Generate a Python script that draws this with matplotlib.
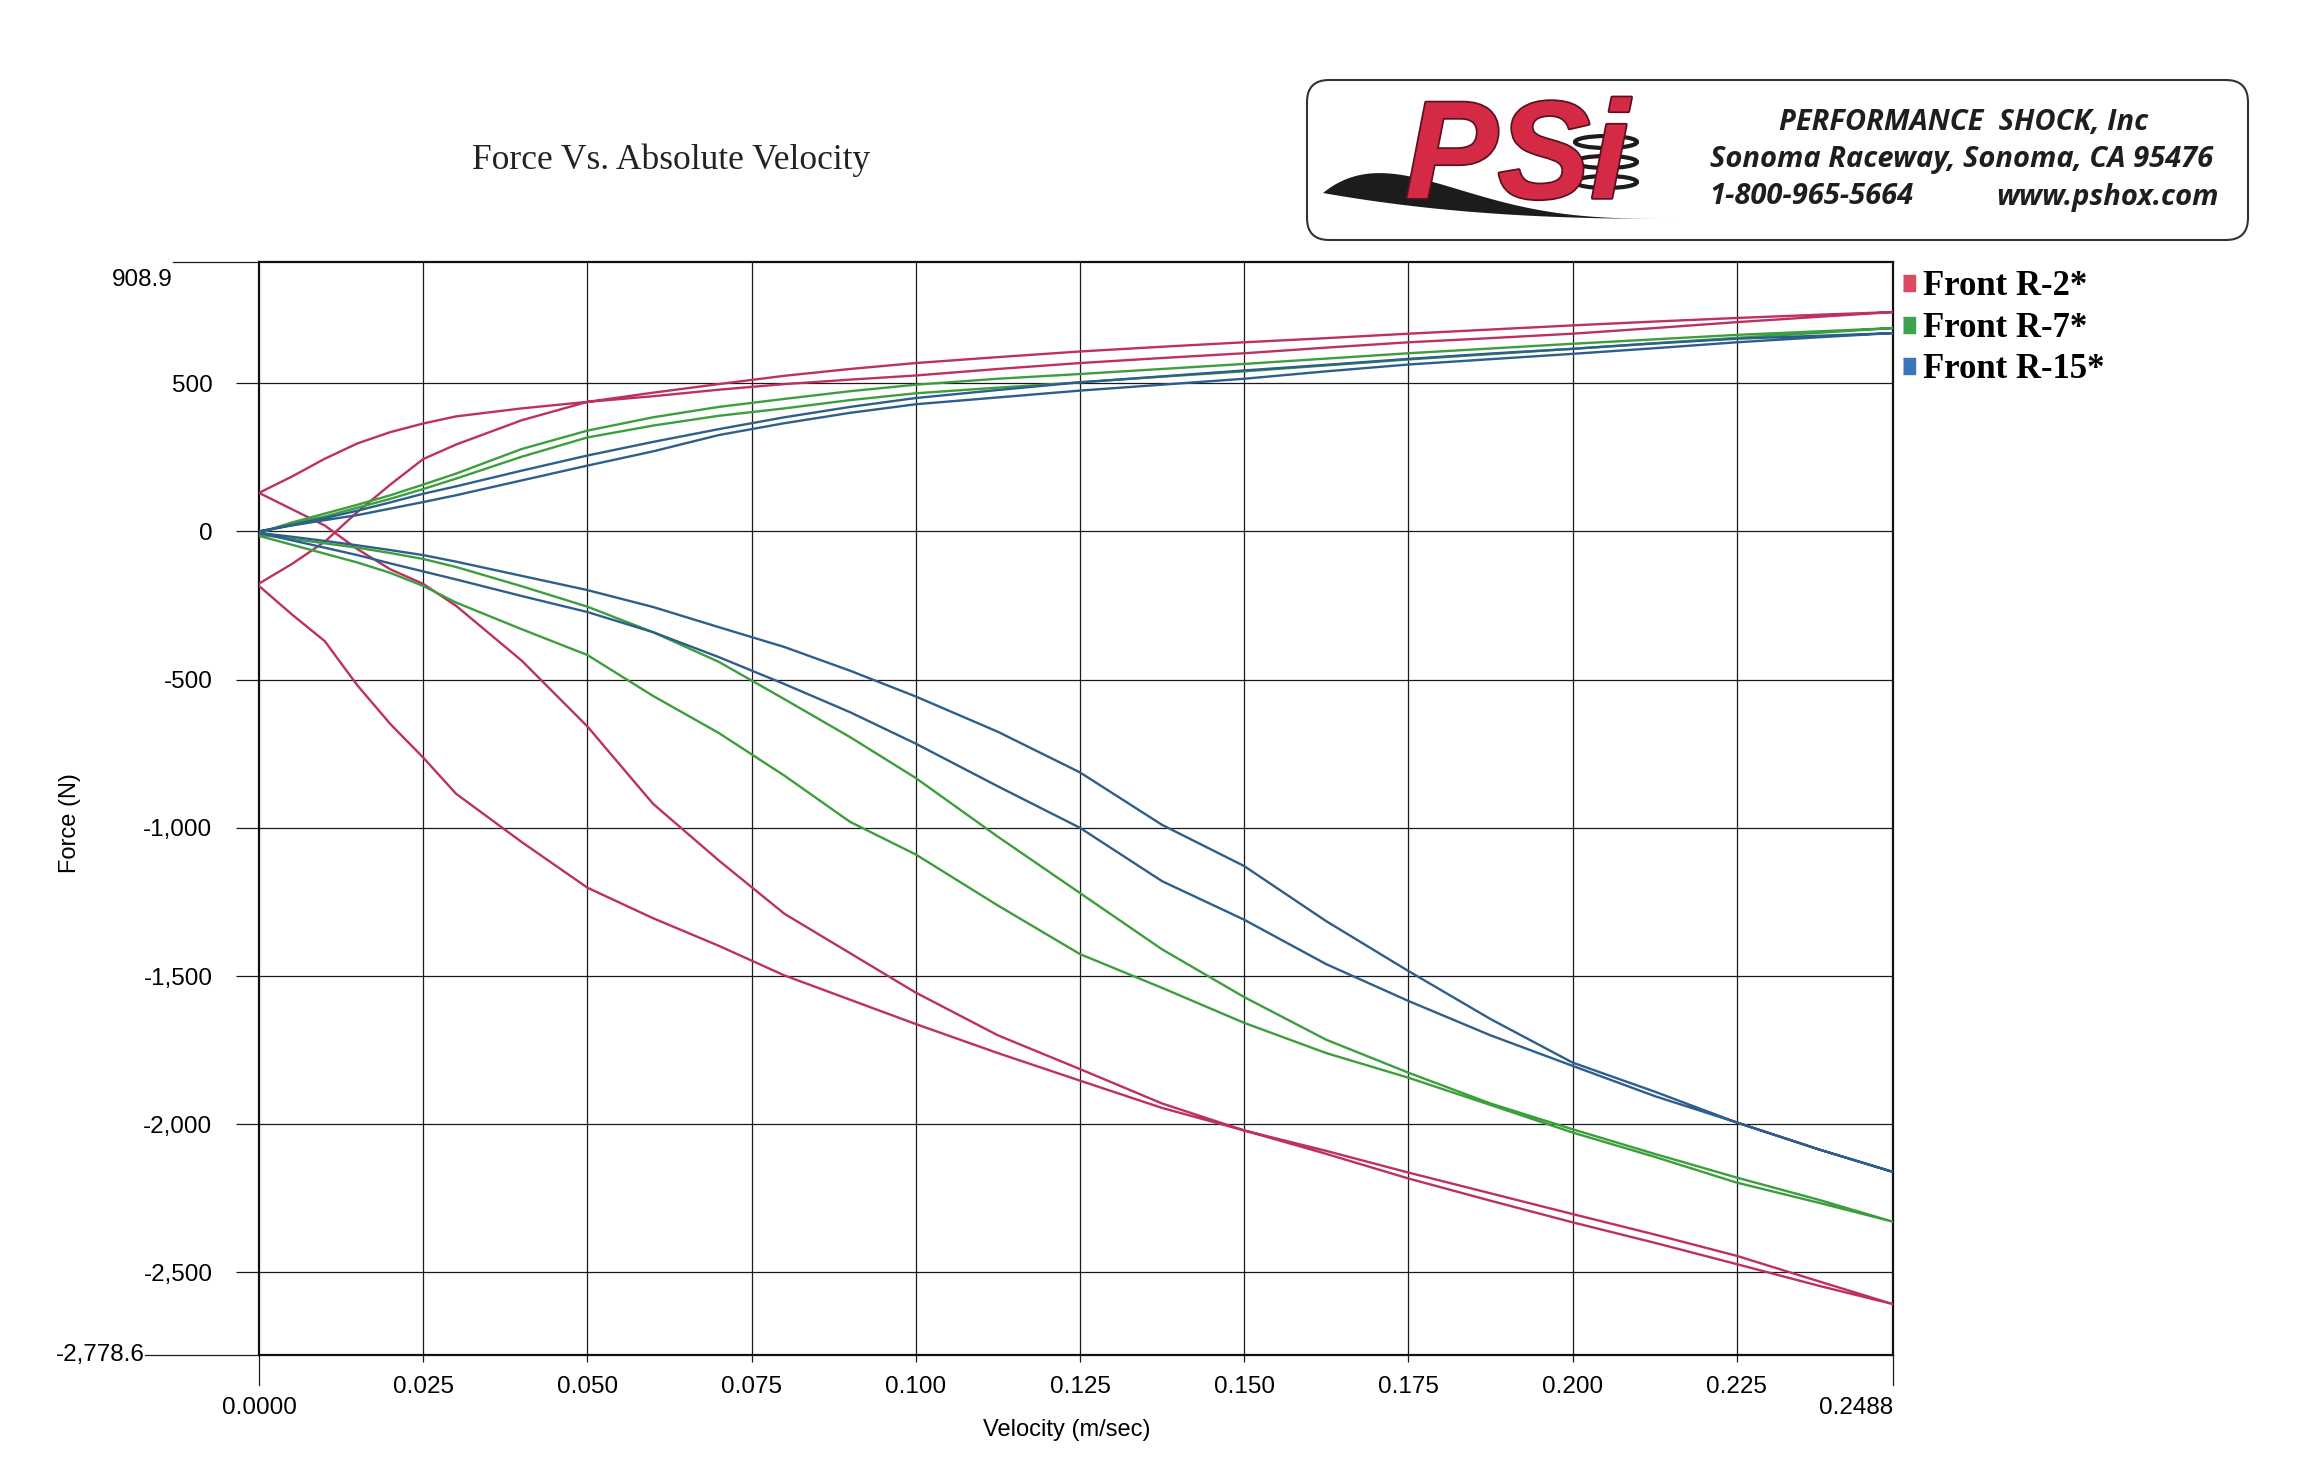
import numpy as np
import matplotlib
matplotlib.use('Agg')
import matplotlib.pyplot as plt
from matplotlib.lines import Line2D
from matplotlib.patches import FancyBboxPatch, Ellipse, Polygon
import matplotlib.patheffects as pe

plt.rcParams['font.family'] = 'Liberation Sans'

# velocity grid (m/sec) shared by every branch
velocity = [0, .005, .01, .015, .02, .025, .03, .04, .05, .06, .07, .08, .09, .10,
            .1125, .125, .1375, .15, .1625, .175, .1875, .20, .2125, .225, .2375, .2488]

# Front R-2*  (compression branches, then rebound branches) - force in N
r2_comp_a = [130, 185, 245, 297, 335, 364, 388, 415, 437, 456, 478, 497, 512, 526,
             548, 568, 585, 601, 620, 638, 652, 667, 686, 706, 724, 740]
r2_comp_b = [-176, -110, -35, 66, 158, 244, 293, 375, 437, 468, 497, 525, 548, 568,
             588, 607, 623, 638, 652, 667, 681, 695, 708, 720, 731, 740]
r2_reb_a = [130, 75, 20, -60, -128, -177, -251, -436, -658, -919, -1110, -1290, -1423, -1556,
            -1700, -1814, -1930, -2021, -2100, -2183, -2258, -2331, -2400, -2472, -2545, -2607]
r2_reb_b = [-184, -280, -370, -520, -650, -763, -885, -1048, -1202, -1305, -1398, -1498, -1580, -1662,
            -1760, -1853, -1945, -2021, -2090, -2163, -2233, -2303, -2372, -2444, -2530, -2607]

# Front R-7*
r7_comp_a = [-5, 30, 60, 90, 122, 158, 195, 278, 340, 385, 420, 447, 473, 495,
             515, 531, 548, 565, 583, 601, 617, 633, 648, 663, 675, 686]
r7_comp_b = [-5, 25, 50, 80, 110, 143, 178, 252, 317, 357, 390, 415, 443, 466,
             485, 503, 522, 540, 560, 580, 598, 616, 635, 653, 670, 686]
r7_reb_a = [-10, -25, -40, -55, -73, -93, -120, -185, -254, -340, -440, -566, -694, -832,
            -1030, -1220, -1410, -1571, -1715, -1826, -1930, -2017, -2100, -2180, -2255, -2329]
r7_reb_b = [-15, -45, -75, -105, -140, -184, -240, -330, -417, -555, -680, -824, -980, -1090,
            -1262, -1426, -1540, -1658, -1760, -1843, -1935, -2028, -2110, -2197, -2265, -2329]

# Front R-15*
r15_comp_a = [0, 22, 45, 70, 98, 127, 152, 205, 256, 302, 345, 385, 420, 450,
              477, 503, 523, 543, 562, 582, 600, 616, 634, 650, 660, 669]
r15_comp_b = [0, 20, 38, 55, 77, 99, 122, 172, 222, 270, 325, 365, 400, 429,
              452, 475, 495, 515, 540, 563, 581, 599, 618, 638, 655, 669]
r15_reb_a = [-5, -18, -32, -47, -63, -80, -102, -150, -198, -255, -323, -390, -470, -557,
             -676, -813, -990, -1129, -1315, -1483, -1645, -1792, -1890, -1994, -2085, -2161]
r15_reb_b = [-5, -30, -55, -80, -108, -135, -162, -218, -272, -340, -424, -515, -610, -716,
             -860, -1000, -1180, -1310, -1460, -1584, -1700, -1803, -1905, -1994, -2085, -2161]

series_names = ['Front R-2*', 'Front R-7*', 'Front R-15*']
line_colors = ['#BC3160', '#3C9E3C', '#2D5E8C']
legend_colors = ['#DB4B63', '#3FA34D', '#3C75BA']

x_ticks = [0.025, 0.05, 0.075, 0.1, 0.125, 0.15, 0.175, 0.2, 0.225]
x_tick_labels = ['0.025', '0.050', '0.075', '0.100', '0.125', '0.150', '0.175', '0.200', '0.225']
y_ticks = [500, 0, -500, -1000, -1500, -2000, -2500]
y_min, y_max = -2778.6, 908.9
x_max = 0.2488


def loop(comp_a, reb_a, reb_b, comp_b):
    # walk the hysteresis loop: out along one branch, back along the other
    v = np.array(velocity)
    xs = np.concatenate([v[::-1], v, v[::-1], v])
    ys = np.concatenate([np.array(comp_a)[::-1], reb_a, np.array(reb_b)[::-1], comp_b])
    return xs, ys


fig = plt.figure(figsize=(23.24, 14.7), dpi=100)
ax = fig.add_axes([0.11145, 0.07823, 0.70310, 0.74354])

loops = [loop(r2_comp_a, r2_reb_a, r2_reb_b, r2_comp_b),
         loop(r7_comp_a, r7_reb_a, r7_reb_b, r7_comp_b),
         loop(r15_comp_a, r15_reb_a, r15_reb_b, r15_comp_b)]
for (xs, ys), c in zip(loops, line_colors):
    ax.plot(xs, ys, color=c, lw=1.7, zorder=3)

ax.set_xlim(0, x_max)
ax.set_ylim(y_min, y_max)
ax.set_xticks(x_ticks)
ax.set_xticklabels(x_tick_labels)
ax.set_yticks(y_ticks)
ax.set_yticklabels([f'{t:,}' for t in y_ticks])
ax.grid(True, color='#1a1a1a', lw=0.9, zorder=1)
ax.tick_params(axis='y', length=16.5, width=0.9, pad=17, labelsize=17.5, color='#1a1a1a')
ax.tick_params(axis='x', length=5, width=0.9, pad=10, labelsize=17.5, color='#1a1a1a')
for s in ax.spines.values():
    s.set_linewidth(1.6)
    s.set_color('#111111')

# end-of-range labels with their extension lines
kw = dict(transform=ax.transAxes, clip_on=False, color='#1a1a1a', lw=0.9)
ax.plot([-0.0526, 0], [1, 1], **kw)
ax.plot([-0.0698, 0], [0, 0], **kw)
ax.plot([0, 0], [0, -0.0274], **kw)
ax.plot([1, 1], [0, -0.0274], **kw)
ax.text(-0.0526, 0.994, f'{y_max:,.1f}', transform=ax.transAxes, ha='right', va='top', fontsize=17.5)
ax.text(-0.0698, 0, f'{y_min:,.1f}', transform=ax.transAxes, ha='right', va='center', fontsize=17.5)
ax.text(0, -0.038, '0.0000', transform=ax.transAxes, ha='center', va='top', fontsize=17.5)
ax.text(1, -0.038, f'{x_max:.4f}', transform=ax.transAxes, ha='right', va='top', fontsize=17.5)

fig.text(0.4591, 0.0272, 'Velocity (m/sec)', ha='center', va='center', fontsize=17)
fig.text(0.0301, 0.4401, 'Force (N)', ha='center', va='center', rotation=90, fontsize=17)
fig.text(0.2887, 0.891, 'Force Vs. Absolute Velocity', ha='center', va='center',
         fontsize=25.5, family='Liberation Serif', color='#222222')

handles = [Line2D([], [], ls='', marker=[(-0.8, -1), (0.8, -1), (0.8, 1), (-0.8, 1)],
                  markersize=11, color=c) for c in legend_colors]
fig.legend(handles, series_names, loc='upper left', bbox_to_anchor=(1900 / 2324, 1 - 270 / 1470),
           frameon=False, prop=dict(family='Liberation Serif', weight='bold', size=25),
           handlelength=0.5, handletextpad=0.15, labelspacing=0.25, borderpad=0, borderaxespad=0)

# company logo block (pixel coordinates of the page)
lax = fig.add_axes([1300 / 2324, 1 - 245 / 1470, 955 / 2324, 170 / 1470])
lax.set_xlim(1300, 2255)
lax.set_ylim(245, 75)
lax.axis('off')
lax.add_patch(FancyBboxPatch((1307, 80), 941, 160, boxstyle='round,pad=0,rounding_size=22',
                             fc='white', ec='#333333', lw=1.5))

t = np.linspace(0, 1, 120)
sx = 1323 + t * (1690 - 1323)
low = 193 + 26 * (1 - (1 - t) ** 2.5)
thick = 365 * t * (1 - t) ** 4
swoosh = np.column_stack([np.concatenate([sx, sx[::-1]]),
                          np.concatenate([low, (low - thick)[::-1]])])
lax.add_patch(Polygon(swoosh, closed=True, fc='#1c1c1c', ec='none', zorder=2))
for cy in [142, 162, 182]:
    lax.add_patch(Ellipse((1606, cy), 62, 12, fill=False, ec='#1c1c1c', lw=3, zorder=2))
lax.text(1405, 198, 'PSi', fontsize=100, fontweight='bold', fontstyle='italic',
         family='Liberation Sans', color='#D42A45', ha='left', va='baseline', zorder=3,
         path_effects=[pe.withStroke(linewidth=2.5, foreground='#5a1020')])

logo_kw = dict(family='Open Sans', fontstyle='italic', fontweight='bold', color='#1e1e1e')
lax.text(1964, 123, 'PERFORMANCE  SHOCK, Inc', ha='center', va='center', fontsize=21, **logo_kw)
lax.text(1962, 160, 'Sonoma Raceway, Sonoma, CA 95476', ha='center', va='center', fontsize=21, **logo_kw)
lax.text(1709, 197, '1-800-965-5664', ha='left', va='center', fontsize=21, **logo_kw)
lax.text(2219, 197, 'www.pshox.com', ha='right', va='center', fontsize=21, **logo_kw)

fig.savefig('out.png', dpi=100, facecolor='white')
